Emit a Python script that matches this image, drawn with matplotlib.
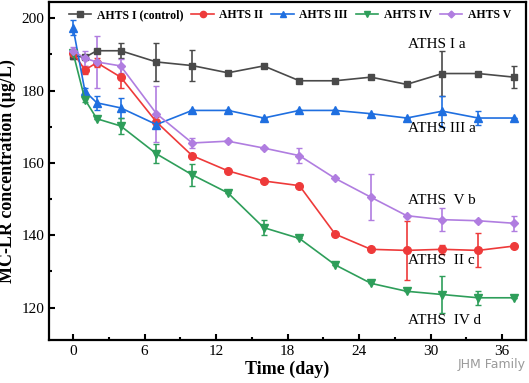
import numpy as np
import matplotlib.pyplot as plt
from matplotlib.ticker import MultipleLocator
from matplotlib.lines import Line2D

plt.rcParams['font.family'] = ['Liberation Serif', 'DejaVu Serif']

days = [0, 1, 2, 4, 7, 10, 13, 16, 19, 22, 25, 28, 31, 34, 37]

ahts1 = [189.6, 189.2, 191.0, 191.0, 187.9, 186.9, 184.9, 186.8, 182.7, 182.7, 183.7, 181.7, 184.7, 184.7, 183.7]
ahts1_err = [1.0, 0, 0, 2.1, 5.2, 4.2, 0, 0, 0, 0, 0, 0, 6.2, 0, 3.0]

ahts2 = [190.5, 185.7, 187.7, 183.7, 171.3, 162.0, 157.8, 155.0, 153.7, 140.3, 136.1, 135.8, 136.1, 135.8, 137.0]
ahts2_err = [0.8, 1.0, 1.2, 3.0, 1.5, 0, 0, 0, 0, 0, 0, 8.1, 1.2, 4.7, 0]

ahts3 = [197.4, 179.8, 176.6, 175.2, 170.6, 174.5, 174.5, 172.4, 174.5, 174.5, 173.6, 172.4, 174.3, 172.4, 172.4]
ahts3_err = [2.0, 0.8, 2.0, 2.8, 1.0, 0, 0, 0, 0, 0, 0, 0, 4.3, 2.0, 0]

ahts4 = [190.5, 177.5, 172.2, 170.2, 162.5, 156.7, 151.7, 142.1, 139.1, 131.8, 126.7, 124.5, 123.6, 122.7, 122.7]
ahts4_err = [0.8, 0.8, 0, 2.2, 2.6, 3.1, 0, 2.0, 0, 0, 0, 0, 5.2, 2.0, 0]

ahts5 = [191.0, 188.9, 187.9, 186.8, 173.6, 165.5, 166.0, 164.1, 162.0, 155.7, 150.5, 145.4, 144.3, 144.0, 143.3]
ahts5_err = [1.0, 2.0, 7.3, 2.0, 7.7, 1.4, 0, 0, 2.0, 0, 6.3, 0, 3.1, 0, 2.1]

labels = ['AHTS I (control)', 'AHTS II', 'AHTS III', 'AHTS IV', 'AHTS V']
notes = ['ATHS I a', 'ATHS III a', 'ATHS  V b', 'ATHS  II c', 'ATHS  IV d']
note_y = [192.8, 169.4, 149.7, 133.1, 116.3]

series = [ahts1, ahts2, ahts3, ahts4, ahts5]
errors = [ahts1_err, ahts2_err, ahts3_err, ahts4_err, ahts5_err]
colors = ['#4a4a4a', '#ee3a3a', '#1f6fe0', '#2e9e5a', '#b07de0']
markers = ['s', 'o', '^', 'v', 'D']
msizes = [5, 5.5, 5.5, 5.5, 4.5]

fig = plt.figure(figsize=(5.29, 3.83), dpi=100)
ax = fig.add_axes([0.093, 0.112, 0.901, 0.883])

handles = []
for y, e, c, m, ms, lab in zip(series, errors, colors, markers, msizes, labels):
    ax.errorbar(days, y, yerr=e, color=c, marker=m, markersize=ms, linewidth=1.2,
                ecolor=c, elinewidth=1.2, capsize=2.5, capthick=1.0)
    handles.append(Line2D([], [], color=c, marker=m, markersize=ms - 1, linewidth=1.2, label=lab))

for txt, ty in zip(notes, note_y):
    ax.text(28.1, ty, txt, fontsize=11, va='center', ha='left')

ax.set_xlim(-2, 38)
ax.set_ylim(111, 204.5)
ax.xaxis.set_minor_locator(MultipleLocator(3))
ax.yaxis.set_major_locator(MultipleLocator(20))
ax.yaxis.set_minor_locator(MultipleLocator(10))
ax.set_xticks([0, 6, 12, 18, 24, 30, 36])
ax.tick_params(which='both', direction='in', width=1.5, labelsize=11)
ax.tick_params(which='major', length=4)
ax.tick_params(which='minor', length=2.5)
for sp in ax.spines.values():
    sp.set_linewidth(1.6)

ax.set_xlabel('Time (day)', fontsize=13, fontweight='bold', labelpad=2)
ax.set_ylabel('MC-LR concentration (\u03bcg/L)', fontsize=13, fontweight='bold', labelpad=4)

ax.legend(handles=handles, loc='upper center', ncol=5, frameon=False,
          prop={'weight': 'bold', 'size': 8.5}, handlelength=1.9, columnspacing=0.7,
          handletextpad=0.45, borderaxespad=0.2, bbox_to_anchor=(0.505, 1.0))

fig.text(0.93, 0.04, 'JHM Family', fontsize=9, color='#9a9a9a', ha='center',
         family='DejaVu Sans')

fig.savefig('out.png', dpi=100)
